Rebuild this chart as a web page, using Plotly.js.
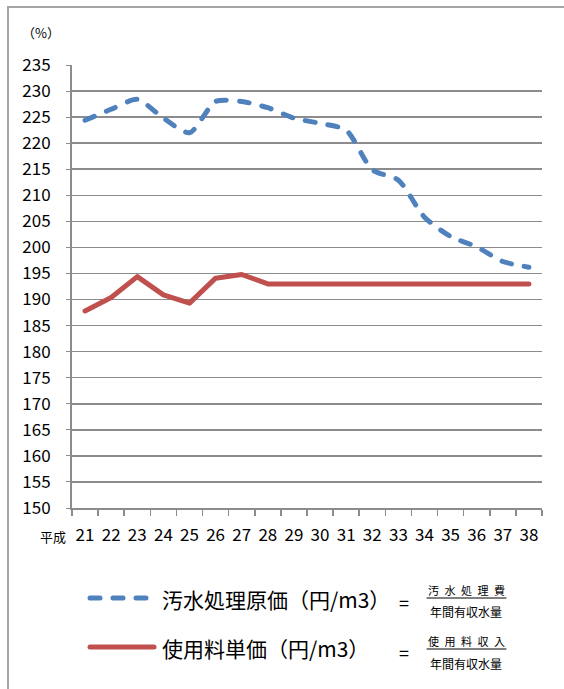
<!DOCTYPE html>
<html><head><meta charset="utf-8">
<script src="https://cdn.plot.ly/plotly-3.0.1.min.js"></script>
<style>
html,body{margin:0;padding:0;background:#fff;}
#wrap{position:relative;width:564px;height:689px;overflow:hidden;}
#frame{position:absolute;left:7px;top:6px;width:600px;height:700px;border-left:2px solid #a6a6a6;border-top:2px solid #a6a6a6;pointer-events:none;}
#chart{position:absolute;left:0;top:0;width:564px;height:689px;}
.js-line{stroke-linecap:round;stroke-linejoin:round;}
.shapelayer path{stroke-linecap:round;}
</style></head>
<body><div id="wrap"><div id="chart"></div><div id="frame"></div></div>
<script>
const years = ['21','22','23','24','25','26','27','28','29','30','31','32','33','34','35','36','37','38'];
const costValues = [224.4,226.5,228.4,224.8,222.0,228.0,228.0,226.8,224.8,223.8,222.5,214.9,212.9,205.8,202.1,200.1,197.3,196.2];
const priceValues = [187.8,190.4,194.4,190.9,189.3,194.1,194.8,193.0,193.0,193.0,193.0,193.0,193.0,193.0,193.0,193.0,193.0,193.0];
const yTicks = [150,155,160,165,170,175,180,185,190,195,200,205,210,215,220,225,230,235];
const costName = '汚水処理原価（円/m3）';
const priceName = '使用料単価（円/m3）';
const costNum = '汚\u2002水\u2002処\u2002理\u2002費';
const priceNum = '使\u2002用\u2002料\u2002収\u2002入';
const denom = '年間有収水量';

const FONT = '"Noto Sans CJK JP", "Noto Sans", sans-serif';
const L = 72, R = 542, T = 65, B = 508;
const px = x => (x - L) / (R - L);
const py = y => (B - y) / (B - T);

const traces = [
  {x: years, y: costValues, type: 'scatter', mode: 'lines', name: costName,
   line: {color: '#4F81BD', width: 5, dash: '10px,13px', shape: 'spline', smoothing: 0.7}},
  {x: years, y: priceValues, type: 'scatter', mode: 'lines', name: priceName,
   line: {color: '#C0504D', width: 5}}
];

const ann = (x, y, text, size, xanchor) => ({xref: 'paper', yref: 'paper', x: px(x), y: py(y), text: text,
  showarrow: false, xanchor: xanchor || 'left', yanchor: 'middle', font: {family: FONT, size: size, color: '#000'}});

const layout = {
  width: 564, height: 689,
  margin: {l: L, r: 564 - R, t: T, b: 689 - B},
  paper_bgcolor: 'rgba(0,0,0,0)', plot_bgcolor: '#fff',
  showlegend: false,
  font: {family: FONT, color: '#000'},
  xaxis: {type: 'category', range: [-0.5, 17.5], showgrid: false, showline: true, linecolor: '#8c8c8c', linewidth: 2,
    ticks: 'outside', tickson: 'boundaries', ticklen: 6, tickcolor: '#8c8c8c', tickwidth: 1.5, tickangle: 0,
    tickfont: {size: 17, family: FONT, color: '#000'}, ticklabelstandoff: 11, fixedrange: true},
  yaxis: {range: [150, 235], tickvals: yTicks, showgrid: true, gridcolor: '#8c8c8c', gridwidth: 1.5,
    showline: true, linecolor: '#8c8c8c', linewidth: 2, ticks: 'outside', ticklen: 4, tickcolor: '#8c8c8c',
    tickfont: {size: 17, family: FONT, color: '#000'}, ticklabelstandoff: 12, zeroline: false, fixedrange: true},
  annotations: [
    ann(20, 32, '（%）', 13),
    ann(68, 536, '平成', 13, 'right'),
    ann(160, 599, costName, 21),
    ann(160, 648, priceName, 21),
    ann(404, 602, '=', 18, 'center'),
    ann(404, 652, '=', 18, 'center'),
    ann(466, 590, costNum, 11, 'center'),
    ann(466, 611, denom, 12, 'center'),
    ann(466, 641, priceNum, 11, 'center'),
    ann(466, 663, denom, 12, 'center')
  ],
  shapes: [
    {type: 'line', xref: 'paper', yref: 'paper', x0: px(90), x1: px(150), y0: py(598), y1: py(598),
     line: {color: '#4F81BD', width: 5, dash: '10px,13px'}},
    {type: 'line', xref: 'paper', yref: 'paper', x0: px(90), x1: px(154), y0: py(647), y1: py(647),
     line: {color: '#C0504D', width: 5}},
    {type: 'line', xref: 'paper', yref: 'paper', x0: px(427), x1: px(506), y0: py(598), y1: py(598),
     line: {color: '#000', width: 1}},
    {type: 'line', xref: 'paper', yref: 'paper', x0: px(427), x1: px(506), y0: py(649), y1: py(649),
     line: {color: '#000', width: 1}}
  ]
};
Plotly.newPlot('chart', traces, layout, {displayModeBar: false, staticPlot: true});
</script></body></html>
